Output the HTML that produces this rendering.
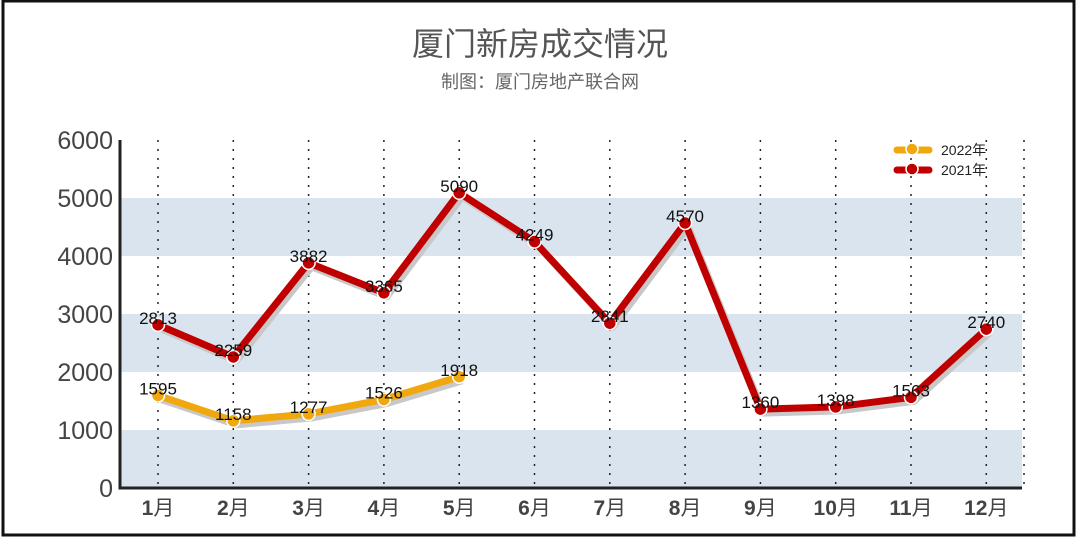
<!DOCTYPE html>
<html><head><meta charset="utf-8"><style>
html,body{margin:0;padding:0;background:#fff}
body{width:1080px;height:540px;overflow:hidden}
svg text{font-family:"Liberation Sans","Noto Sans CJK SC",sans-serif}
</style></head><body>
<svg id="c" width="1080" height="540">
<rect x="3" y="1" width="1071" height="534" fill="#fff" stroke="#111" stroke-width="3"/>
<text x="540" y="55" text-anchor="middle" font-size="32" fill="#555">厦门新房成交情况</text>
<text x="540" y="88" text-anchor="middle" font-size="18" fill="#666">制图：厦门房地产联合网</text>
<g id="bands"></g><g id="grid"></g><g id="axes"></g><g id="series"></g>
<g>
<g>
<line x1="897" y1="150" x2="929" y2="150" stroke="#f0a80e" stroke-width="7" stroke-linecap="round"/>
<circle cx="912" cy="149" r="6" fill="#f0a80e" stroke="#fff" stroke-width="1.5"/>
<text x="941" y="155" font-size="14" fill="#222">2022年</text></g>
<g>
<line x1="897" y1="170" x2="929" y2="170" stroke="#c00000" stroke-width="7" stroke-linecap="round"/>
<circle cx="912" cy="169" r="6" fill="#c00000" stroke="#fff" stroke-width="1.5"/>
<text x="941" y="175" font-size="14" fill="#222">2021年</text></g>
</g>
</svg>
<script>
const categories=["1月","2月","3月","4月","5月","6月","7月","8月","9月","10月","11月","12月"];
const values2021=[2813,2259,3882,3365,5090,4249,2841,4570,1360,1398,1563,2740];
const values2022=[1595,1158,1277,1526,1918];
const yTicks=[0,1000,2000,3000,4000,5000,6000];
const NS="http://www.w3.org/2000/svg";
const L=120,R=1022,T=140,B=488,yMax=6000;
const x=i=>158+i*75.3;
const y=v=>B-(v/yMax)*(B-T);
function mk(tag,attrs,parent,txt){const e=document.createElementNS(NS,tag);for(const k in attrs)e.setAttribute(k,attrs[k]);if(txt!=null)e.textContent=txt;document.getElementById(parent).appendChild(e);return e;}
for(let i=0;i<yTicks.length-1;i+=2){
 const r=mk('rect',{x:L,y:y(yTicks[i+1]),width:R-L,height:y(yTicks[i])-y(yTicks[i+1]),fill:'#dae4ef'},'bands');
 
 
}
categories.forEach((c,i)=>{
 const g=mk('line',{x1:x(i),y1:T,x2:x(i),y2:B,stroke:'#222','stroke-width':1.5,'stroke-dasharray':'2 7'},'grid');
 
 
 const t=mk('text',{x:x(i),y:515,'text-anchor':'middle','font-size':21,fill:'#444'},'axes');
 
 
 const s1=document.createElementNS(NS,'tspan');s1.setAttribute('font-weight','bold');s1.textContent=c.replace('月','');t.appendChild(s1);
 const s2=document.createElementNS(NS,'tspan');s2.textContent='月';t.appendChild(s2);
});
{const g=mk('line',{x1:R+2,y1:T,x2:R+2,y2:B,stroke:'#222','stroke-width':1.5,'stroke-dasharray':'2 7'},'grid');
 
 }
yTicks.forEach(v=>{
 const t=mk('text',{x:113,y:y(v)+9,'text-anchor':'end','font-size':25,fill:'#444'},'axes',v);
 
 
});
const ax=mk('path',{d:`M${L} ${T} V${B} H${R}`,fill:'none',stroke:'#222','stroke-width':3},'axes');


function series(vals,color,name){
 const pts=vals.map((v,i)=>`${x(i)},${y(v)}`).join(' ');
 const sh=mk('polyline',{points:vals.map((v,i)=>`${x(i)+3},${y(v)+4}`).join(' '),fill:'none',stroke:'#c8c8c8','stroke-width':7,'stroke-linejoin':'round'},'series');
 
 
 const l=mk('polyline',{points:pts,fill:'none',stroke:color,'stroke-width':7,'stroke-linejoin':'round'},'series');
 
 
 vals.forEach((v,i)=>{
  const c=mk('circle',{cx:x(i),cy:y(v),r:6.5,fill:color,stroke:'#fff','stroke-width':1.5},'series');
  
  
  const t=mk('text',{x:x(i),y:y(v)-1,'text-anchor':'middle','font-size':17,fill:'#111'},'series',v);
  
  
 });
}
series(values2021,'#c00000','series-2021');
series(values2022,'#f0a80e','series-2022');
</script>
</body></html>
